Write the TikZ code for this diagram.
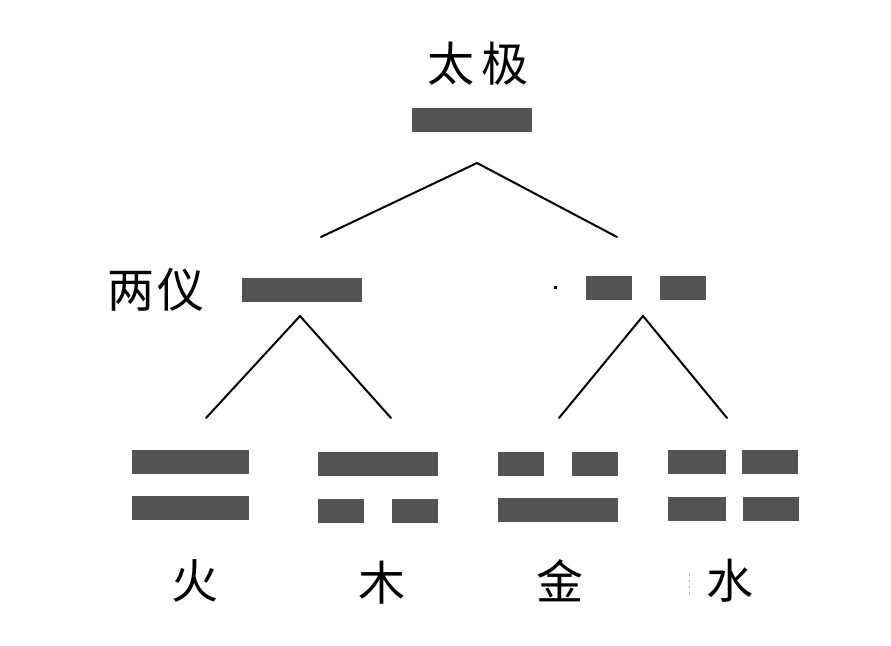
\documentclass[tikz,border=0pt]{standalone}
\usepackage{fontspec}
\newfontfamily\cjk{Noto Sans CJK SC}
\usetikzlibrary{calc}

\begin{document}
\begin{tikzpicture}[x=1pt,y=-1pt]
		\tikzstyle{word}=[font=\cjk\fontsize{47}{47}\selectfont,inner sep=0pt];
		\tikzstyle{yang}=[rectangle,fill=black!67,inner sep=0pt,minimum height=24pt,minimum width=118pt];
		\tikzstyle{yin}=[yang,minimum width=46pt];
		\tikzstyle{branch}=[line width=2pt,line cap=round];
		\useasboundingbox(0,0)rectangle(891,645);
		\fill[white](0,0)rectangle(891,645);

		% taiji
		\node[word](taiji)at(478,64){太\,极};
		\node[yang,minimum width=120pt](t0)at(472,120){};
		\coordinate(t)at(477,163);
		\coordinate(tl)at(321,237);
		\coordinate(tr)at(617,237);
		\draw[branch](tl)--(t)--(tr);

		% liangyi
		\node[word](liangyi)at(156,290){两\hspace{4pt}仪};
		\node[yang,minimum width=120pt](l0)at(302,290){};
		\node[yin](r1)at(609,288){};
		\node[yin](r2)at(683,288){};
		\fill[black](553.5,285.5)rectangle+(3,3);
		\coordinate(l)at(300,316);
		\coordinate(ll)at(206,418);
		\coordinate(lr)at(391,418);
		\draw[branch](ll)--(l)--(lr);
		\coordinate(r)at(643,316);
		\coordinate(rl)at(559,418);
		\coordinate(rr)at(727,418);
		\draw[branch](rl)--(r)--(rr);

		% huo
		\node[yang,minimum width=117pt](h1)at(190.5,461.5){};
		\node[yang,minimum width=117pt](h2)at(190.5,507.5){};
		\node[word](huo)at(195,581){火};

		% mu
		\node[yang,minimum width=120pt](m1)at(378,464){};
		\node[yin](m2)at(341,510.5){};
		\node[yin](m3)at(415,510.5){};
		\node[word](mu)at(382,583){木};

		% jin
		\node[yin](j1)at(521,464){};
		\node[yin](j2)at(595,464){};
		\node[yang,minimum width=120pt](j3)at(558,509.5){};
		\node[word](jin)at(560,581){金};

		% shui
		\node[yin,minimum width=58pt](s1)at(697,461.5){};
		\node[yin,minimum width=56pt](s2)at(770,461.5){};
		\node[yin,minimum width=58pt](s3)at(697,508.5){};
		\node[yin,minimum width=56pt](s4)at(771,508.5){};
		\draw[black!35,line width=1pt,dash pattern=on 2pt off 4pt](689,574)--(689,595);
		\node[word](shui)at(730,581){水};
	\end{tikzpicture}
\end{document}
